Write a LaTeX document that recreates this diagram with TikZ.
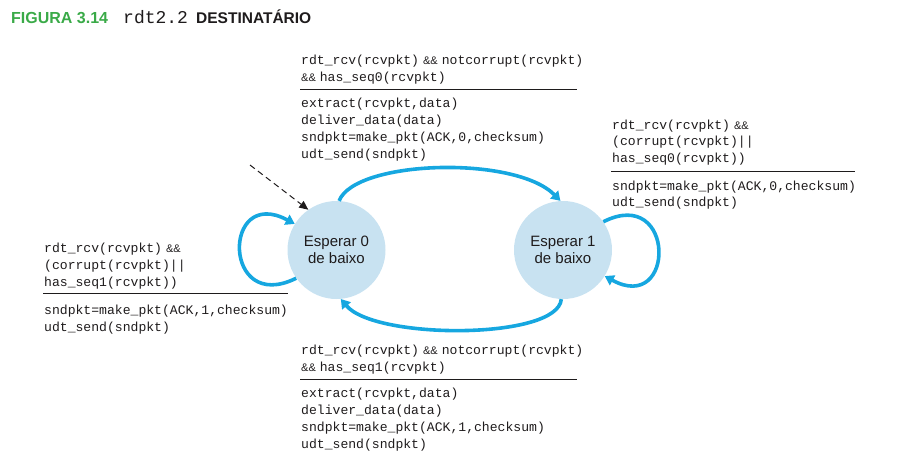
\documentclass[tikz,border=0pt]{standalone}
\usepackage{fontspec}
\setmainfont{Liberation Sans}
\setsansfont{Liberation Sans}
\setmonofont{Liberation Mono}
\usetikzlibrary{arrows.meta}
\definecolor{fsmblue}{RGB}{22,167,224}
\definecolor{statefill}{RGB}{200,226,241}
\definecolor{figgreen}{RGB}{58,170,72}
\definecolor{ink}{RGB}{30,27,28}
\newcommand\ampp{{\sffamily\fontsize{11}{11}\selectfont\&\&}}
\begin{document}
\begin{tikzpicture}[x=1pt,y=-1pt,
  code/.style={anchor=base west,inner sep=0pt,font=\ttfamily\fontsize{13.1}{17}\selectfont,text=ink},
  state/.style={circle,fill=statefill,minimum size=98pt,inner sep=0pt,align=center,font=\sffamily\fontsize{15}{17}\selectfont,text=ink},
  trans/.style={draw=fsmblue,line width=3.6pt,-{Triangle[length=9pt,width=11pt]}},
  rulel/.style={draw=ink,line width=0.8pt},
  titlesans/.style={anchor=base west,inner sep=0pt,font=\sffamily\bfseries\fontsize{16}{16}\selectfont}]
\useasboundingbox (0,0) rectangle (898,466);
% title
\node[titlesans,text=figgreen] (fig) at (11,23.5) {FIGURA 3.14};
\node[anchor=base west,inner sep=0pt,font=\ttfamily\fontsize{18}{18}\selectfont,text=ink] (rdt) at (123,23.5) {rdt2.2};
\node[titlesans,text=ink,font=\sffamily\bfseries\fontsize{15.5}{16}\selectfont] (dest) at (196,23.5) {DESTINATÁRIO};
% states
\node[state] (s0) at (336.5,250) {Esperar 0\\de baixo};
\node[state] (s1) at (563,250) {Esperar 1\\de baixo};
% top block
\node[code] (t1) at (301,64) {rdt\_rcv(rcvpkt)\hspace{4pt}\ampp\hspace{4pt}notcorrupt(rcvpkt)};
\node[code] (t2) at (301,81) {\ampp\hspace{4pt}has\_seq0(rcvpkt)};
\draw[rulel] (300,89.5) -- (577,89.5);
\node[code] (t3) at (301,107) {extract(rcvpkt,data)};
\node[code] (t4) at (301,124) {deliver\_data(data)};
\node[code] (t5) at (301,141) {sndpkt=make\_pkt(ACK,0,checksum)};
\node[code] (t6) at (301,158) {udt\_send(sndpkt)};
% right block
\node[code] (r1) at (612,129) {rdt\_rcv(rcvpkt)\hspace{4pt}\ampp};
\node[code] (r2) at (612,145.7) {(corrupt(rcvpkt)||};
\node[code] (r3) at (612,162.4) {has\_seq0(rcvpkt))};
\draw[rulel] (611,171) -- (855,171);
\node[code] (r4) at (612,190) {sndpkt=make\_pkt(ACK,0,checksum)};
\node[code] (r5) at (612,206.7) {udt\_send(sndpkt)};
% left block
\node[code] (l1) at (44,252) {rdt\_rcv(rcvpkt)\hspace{4pt}\ampp};
\node[code] (l2) at (44,269) {(corrupt(rcvpkt)||};
\node[code] (l3) at (44,286) {has\_seq1(rcvpkt))};
\draw[rulel] (43,293.5) -- (288,293.5);
\node[code] (l4) at (44,314) {sndpkt=make\_pkt(ACK,1,checksum)};
\node[code] (l5) at (44,331) {udt\_send(sndpkt)};
% bottom block
\node[code] (b1) at (301,354) {rdt\_rcv(rcvpkt)\hspace{4pt}\ampp\hspace{4pt}notcorrupt(rcvpkt)};
\node[code] (b2) at (301,371) {\ampp\hspace{4pt}has\_seq1(rcvpkt)};
\draw[rulel] (300,379.5) -- (577,379.5);
\node[code] (b3) at (301,397) {extract(rcvpkt,data)};
\node[code] (b4) at (301,414) {deliver\_data(data)};
\node[code] (b5) at (301,431) {sndpkt=make\_pkt(ACK,1,checksum)};
\node[code] (b6) at (301,448) {udt\_send(sndpkt)};
% transitions
\draw[trans] (s0.87) .. controls (355,160) and (515,155) .. (s1.93);
\draw[trans] (s1.268) .. controls (558,340) and (375,340) .. (s0.275);
\draw[trans] (s0.215) .. controls (222,315) and (222,185) .. (s0.148);
\draw[trans] (s1.35) .. controls (676,185) and (676,315) .. (s1.328);
% initial
\coordinate (init) at (250,165);
\draw[ink,line width=1pt,dash pattern=on 6pt off 4pt,-{Triangle[length=9pt,width=8pt]}] (init) -- (s0.125);
\end{tikzpicture}
\end{document}
